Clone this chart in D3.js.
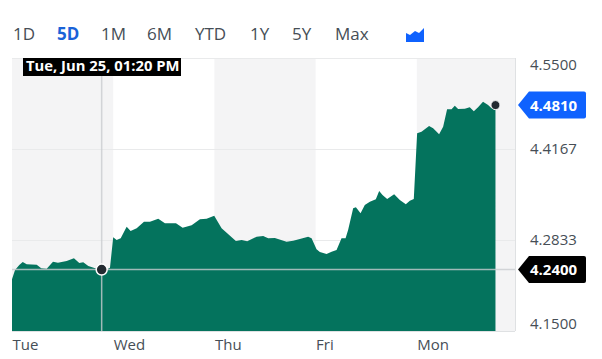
<!DOCTYPE html>
<html><head><meta charset="utf-8">
<script src="https://cdn.jsdelivr.net/npm/d3@7"></script>
<style>
html,body{margin:0;padding:0;background:#fff}
svg{display:block}
text{font-family:"Open Sans",sans-serif}
</style></head><body>
<svg id="c" width="602" height="359"></svg>
<script>
const ranges = ["1D","5D","1M","6M","YTD","1Y","5Y","Max"];
const activeRange = "5D";
const dayLabels = ["Tue","Wed","Thu","Fri","Mon"];
const priceTicks = [4.55,4.4167,4.2833,4.15];
const lastPrice = 4.481;
const hoverPrice = 4.24;
const hoverTime = 0.886;
const hoverLabel = "Tue, Jun 25, 01:20 PM";
const times = [0,.03,.072,.106,.145,.244,.289,.343,.405,.454,.54,.612,.665,.704,.754,.837,.886,.941,.968,
1,1.034,1.074,1.133,1.172,1.232,1.304,1.363,1.445,1.511,1.62,1.686,1.775,1.857,1.923,1.998,
2.071,2.212,2.269,2.324,2.417,2.482,2.531,2.597,2.713,2.778,2.844,2.926,2.96,
3.009,3.042,3.108,3.158,3.207,3.256,3.296,3.321,3.371,3.398,3.444,3.486,3.536,3.595,3.628,3.661,3.707,3.776,3.832,3.891,3.931,3.97,
4.003,4.046,4.121,4.161,4.22,4.26,4.299,4.343,4.375,4.408,4.474,4.523,4.563,4.605,4.654,4.704,4.738,4.777];
const prices = [4.2257,4.2394,4.2467,4.2511,4.2477,4.2471,4.2419,4.2413,4.2515,4.2501,4.2526,4.2565,4.2496,4.2506,4.2452,4.2413,4.24,4.2405,4.2425,
4.2873,4.2833,4.2858,4.3028,4.2965,4.3005,4.3101,4.3101,4.3145,4.3078,4.3078,4.3013,4.3049,4.3136,4.3145,4.3189,
4.3005,4.2819,4.2833,4.2814,4.2881,4.2892,4.2858,4.2862,4.2808,4.2823,4.2848,4.2881,4.2858,
4.2697,4.2657,4.2628,4.2662,4.2687,4.2858,4.2858,4.298,4.3298,4.3312,4.3224,4.3346,4.3394,4.3429,4.3551,4.3492,4.3434,4.3503,4.3419,4.3356,4.3409,4.3434,
4.4396,4.442,4.4503,4.447,4.4382,4.4493,4.4748,4.4748,4.4801,4.4752,4.4757,4.4777,4.4719,4.4777,4.4859,4.4811,4.4763,4.4738];

const svg = d3.select("#c");
const x = d3.scaleLinear().domain([0,4.97]).range([12,515]);
const y = d3.scaleLinear().domain([4.15,4.55]).range([331,58]);
const textCol = "#464e56";
const series = times.map((t,i)=>({t,p:prices[i]}));

// range selector
const btnX = [13,57,101,147,195,250,292,335];
svg.append("g").selectAll("text").data(ranges).join("text")
  .attr("x",(d,i)=>btnX[i]).attr("y",40)
  .attr("font-size",17)
  .attr("font-weight",d=>d===activeRange?700:400)
  .attr("fill",d=>d===activeRange?"#1a63d8":textCol)
  .text(d=>d);
svg.append("path").attr("fill","#0f62fe")
  .attr("d","M406 42V33L410 35L415 31L419 33L424 28V42Z");

// day bands
svg.append("g").selectAll("rect").data([0,2,4]).join("rect")
  .attr("x",d=>x(d)).attr("y",y(4.55))
  .attr("width",d=>Math.min(x(d+1),x(4.97))-x(d))
  .attr("height",y(4.15)-y(4.55))
  .attr("fill","#f4f4f5");

// frame + grid
const grid = svg.append("g").attr("stroke","#e9eaeb").attr("stroke-width",1);
grid.selectAll("line").data(priceTicks).join("line")
  .attr("x1",x(0)).attr("x2",x(4.97))
  .attr("y1",d=>Math.round(y(d))+.5).attr("y2",d=>Math.round(y(d))+.5);
grid.append("line").attr("x1",x(4.97)+.5).attr("x2",x(4.97)+.5).attr("y1",y(4.55)).attr("y2",y(4.15)).attr("stroke","#dfe1e3");

// area
const area = d3.area().x(d=>x(d.t)).y0(y(4.15)).y1(d=>y(d.p)).curve(d3.curveLinear);
svg.append("path").datum(series).attr("d",area).attr("fill","#04735d");

// crosshair
const cross = svg.append("g").attr("stroke","#c9cccf").attr("stroke-opacity",.8).attr("stroke-width",1.5);
cross.append("line").attr("x1",x(hoverTime)).attr("x2",x(hoverTime)).attr("y1",y(4.55)).attr("y2",y(4.15));
cross.append("line").attr("x1",x(0)).attr("x2",x(4.97)).attr("y1",y(hoverPrice)).attr("y2",y(hoverPrice));

// dots
svg.append("circle").attr("cx",x(hoverTime)).attr("cy",y(hoverPrice)).attr("r",5.5)
  .attr("fill","#232a31").attr("stroke","#fff").attr("stroke-width",1.5);
svg.append("circle").attr("cx",x(times[times.length-1])).attr("cy",y(lastPrice)).attr("r",4.5)
  .attr("fill","#232a31").attr("stroke","#f4f4f5").attr("stroke-width",1);

// axes
const yAxis = d3.axisRight(y).tickValues(priceTicks).tickFormat(d3.format(".4f")).tickSize(0).tickPadding(15);
const gy = svg.append("g").attr("transform",`translate(${x(4.97)},0)`).call(yAxis);
gy.select(".domain").remove();
gy.selectAll("text").attr("font-size",15).attr("fill",textCol).attr("font-family",'"Open Sans",sans-serif')
  .attr("dy",d=>d===4.55?"0.78em":d===4.15?"-0.15em":"0.32em");

const xAxis = d3.axisBottom(x).tickValues(dayLabels.map((d,i)=>i)).tickFormat(i=>dayLabels[i]).tickSize(0).tickPadding(8);
const gx = svg.append("g").attr("transform",`translate(0,${y(4.15)})`).call(xAxis);
gx.select(".domain").attr("stroke","#dfe1e3").attr("d",`M${x(0)},0.5H${x(4.97)}`);
gx.selectAll("text").attr("font-size",15).attr("fill",textCol).attr("text-anchor","start").attr("font-family",'"Open Sans",sans-serif');

// price tags
function tag(p,fill,label){
  const c=y(p),l=x(4.97)+3;
  svg.append("path").attr("fill",fill)
    .attr("d",`M${l},${c}L${l+11},${c-13.5}H${l+66}Q${l+68},${c-13.5} ${l+68},${c-11.5}V${c+11.5}Q${l+68},${c+13.5} ${l+66},${c+13.5}H${l+11}Z`);
  svg.append("text").attr("x",x(4.97)+15).attr("y",c+5.5).attr("font-size",15).attr("font-weight",700)
    .attr("fill","#fff").text(label);
}
tag(lastPrice,"#0f62fe",d3.format(".4f")(lastPrice));
tag(hoverPrice,"#000",d3.format(".4f")(hoverPrice));

// hover date label
svg.append("rect").attr("x",23).attr("y",58).attr("width",158).attr("height",18).attr("fill","#000");
svg.append("text").attr("x",26).attr("y",70.5).attr("font-size",14.8).attr("font-weight",700).attr("fill","#fff").text(hoverLabel);
</script>
</body></html>
